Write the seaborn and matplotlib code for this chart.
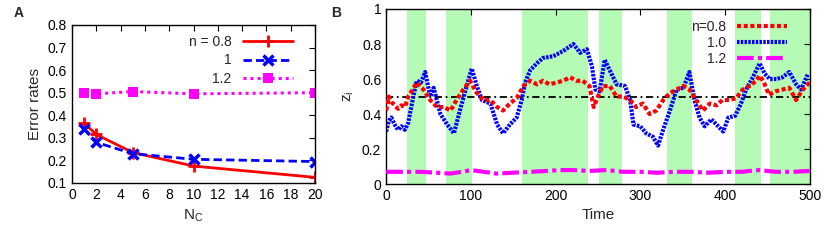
import numpy as np
import pandas as pd
import seaborn as sns
import matplotlib.pyplot as plt

# panel A: error rates vs N_C
nc = [1, 2, 5, 10, 20]
err_08 = [0.365, 0.315, 0.235, 0.175, 0.125]
err_10 = [0.34, 0.28, 0.23, 0.205, 0.195]
err_12 = [0.50, 0.495, 0.505, 0.495, 0.50]

# panel B: z_i over time
t_red = [0, 3, 6, 10, 14, 18, 22, 26, 30, 36, 44, 52, 60, 68, 76, 83, 91, 99, 107, 115,
         123, 131, 138, 146, 154, 162, 170, 178, 185, 193, 201, 209, 217, 225, 232, 240,
         245, 250, 256, 264, 272, 280, 288, 295, 303, 311, 319, 327, 335, 343, 351, 358,
         366, 374, 382, 390, 397, 405, 413, 421, 429, 437, 441, 446, 452, 460, 468, 476,
         484, 492, 500]
z_red = [0.42, 0.50, 0.47, 0.45, 0.43, 0.45, 0.44, 0.50, 0.53, 0.58, 0.54, 0.48, 0.44,
         0.44, 0.42, 0.48, 0.54, 0.59, 0.52, 0.48, 0.48, 0.44, 0.42, 0.46, 0.49, 0.56,
         0.59, 0.57, 0.59, 0.57, 0.58, 0.59, 0.61, 0.59, 0.59, 0.56, 0.44, 0.50, 0.56,
         0.56, 0.50, 0.50, 0.48, 0.44, 0.46, 0.40, 0.42, 0.48, 0.52, 0.54, 0.56, 0.54,
         0.48, 0.42, 0.46, 0.45, 0.48, 0.48, 0.49, 0.54, 0.56, 0.59, 0.62, 0.58, 0.51,
         0.53, 0.54, 0.55, 0.48, 0.54, 0.58]

t_blue = [0, 3, 6, 10, 14, 18, 22, 26, 28, 32, 36, 41, 46, 52, 56, 64, 72, 80, 87, 95,
          101, 107, 113, 123, 131, 138, 146, 154, 160, 164, 170, 178, 185, 197, 209, 221,
          229, 237, 243, 247, 252, 258, 264, 272, 282, 288, 292, 300, 307, 315, 321, 327,
          335, 343, 351, 358, 364, 370, 376, 384, 392, 398, 404, 412, 419, 425, 433, 441,
          447, 453, 461, 468, 476, 484, 490, 498]
z_blue = [0.30, 0.36, 0.38, 0.34, 0.31, 0.33, 0.31, 0.35, 0.40, 0.50, 0.59, 0.58, 0.64,
          0.50, 0.55, 0.40, 0.34, 0.29, 0.42, 0.56, 0.66, 0.56, 0.48, 0.46, 0.34, 0.29,
          0.34, 0.38, 0.48, 0.58, 0.65, 0.69, 0.72, 0.73, 0.76, 0.80, 0.75, 0.77, 0.67,
          0.54, 0.53, 0.71, 0.65, 0.57, 0.56, 0.48, 0.34, 0.33, 0.29, 0.27, 0.22, 0.31,
          0.42, 0.54, 0.55, 0.64, 0.48, 0.38, 0.33, 0.37, 0.33, 0.30, 0.38, 0.39, 0.46,
          0.54, 0.61, 0.69, 0.63, 0.60, 0.60, 0.61, 0.64, 0.57, 0.54, 0.63]

t_mag = [0, 20, 40, 60, 75, 90, 100, 115, 130, 150, 170, 190, 205, 220, 240, 260, 280,
         300, 320, 340, 360, 380, 400, 420, 440, 460, 480, 500]
z_mag = [0.07, 0.07, 0.07, 0.065, 0.06, 0.07, 0.08, 0.07, 0.06, 0.065, 0.07, 0.075, 0.08,
         0.08, 0.075, 0.08, 0.07, 0.07, 0.065, 0.07, 0.07, 0.065, 0.07, 0.07, 0.08, 0.07,
         0.07, 0.075]

# switching periods (green bands)
band_start = [25, 71, 160, 251, 331, 412, 453]
band_end = [47, 101, 238, 278, 361, 443, 500]

sns.set_style("white")
plt.rcParams['font.family'] = ['Liberation Sans', 'DejaVu Sans']
plt.rcParams.update({
    'font.size': 10,
    'xtick.direction': 'in', 'ytick.direction': 'in',
    'xtick.top': True, 'ytick.right': True,
    'xtick.major.size': 4, 'ytick.major.size': 4,
    'xtick.major.width': 0.8, 'ytick.major.width': 0.8,
    'axes.edgecolor': 'black', 'axes.linewidth': 1.0,
    'xtick.color': 'black', 'ytick.color': 'black',
    'xtick.labelsize': 10, 'ytick.labelsize': 10,
})

fig = plt.figure(figsize=(8.27, 2.4), dpi=100)
axA = fig.add_axes([0.087, 0.2375, 0.294, 0.6585])
axB = fig.add_axes([0.467, 0.233, 0.512, 0.7295])

red, blue, mag = '#ff0000', '#0000ff', '#ff00ff'

# ---- panel A
sns.lineplot(x=nc, y=err_08, ax=axA, color=red, lw=2, marker='+', markersize=8,
             markeredgewidth=2, markeredgecolor=red, label='n = 0.8')
sns.lineplot(x=nc, y=err_10, ax=axA, color=blue, lw=2, marker='x', markersize=7,
             markeredgewidth=2.5, markeredgecolor=blue, linestyle=(0, (3, 1.5)),
             label='1')
sns.lineplot(x=nc, y=err_12, ax=axA, color=mag, lw=2.2, marker='s', markersize=7.5,
             markeredgewidth=0, linestyle=(0, (1, 1.3)), label='1.2')
axA.set_xlim(0, 20)
axA.set_ylim(0.1, 0.8)
axA.set_xticks(range(0, 21, 2))
axA.set_yticks([0.1, 0.2, 0.3, 0.4, 0.5, 0.6, 0.7, 0.8])
axA.set_ylabel('Error rates', fontsize=11)
axA.set_xlabel('N$_\\mathregular{C}$', fontsize=11)
legA = axA.legend(loc='upper right', markerfirst=False, frameon=False, fontsize=10,
                  handlelength=3.6, labelspacing=0.3, borderaxespad=0,
                  bbox_to_anchor=(0.93, 0.97))

# ---- panel B
for s, e in zip(band_start, band_end):
    axB.axvspan(s, e, color='#b5fbb5', lw=0, zorder=0)
axB.axhline(0.5, color='black', lw=1.3, linestyle=(0, (4, 2, 1, 2)), zorder=1)
sns.lineplot(x=t_red, y=z_red, ax=axB, color=red, lw=3, linestyle=(0, (1, 0.6)),
             label='n=0.8', zorder=3)
sns.lineplot(x=t_blue, y=z_blue, ax=axB, color=blue, lw=3, linestyle=(0, (0.6, 0.3)),
             label='1.0', zorder=2)
sns.lineplot(x=t_mag, y=z_mag, ax=axB, color=mag, lw=3, linestyle=(0, (4, 1, 1, 1)),
             label='1.2', zorder=3)
axB.set_xlim(0, 500)
axB.set_ylim(0, 1)
axB.set_xticks(range(0, 501, 100))
axB.set_yticks([0, 0.2, 0.4, 0.6, 0.8, 1])
axB.set_yticklabels(['0', '0.2', '0.4', '0.6', '0.8', '1'])
axB.set_xlabel('Time', fontsize=11)
axB.set_ylabel('z$_\\mathregular{i}$', fontsize=11)
legB = axB.legend(loc='upper right', markerfirst=False, frameon=False, fontsize=10,
                  handlelength=3.6, labelspacing=0.15, borderaxespad=0,
                  bbox_to_anchor=(0.96, 0.97))

fig.text(0.022, 0.945, 'A', fontsize=10, fontweight='bold', va='center', ha='center')
fig.text(0.407, 0.945, 'B', fontsize=10, fontweight='bold', va='center', ha='center')

fig.savefig('out.png', dpi=100)
